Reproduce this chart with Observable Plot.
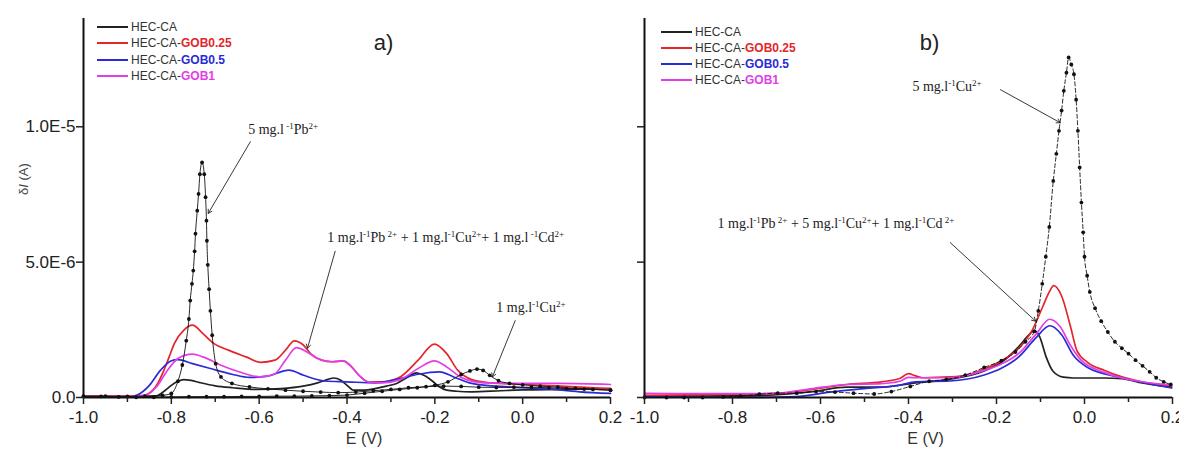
<!DOCTYPE html>
<html><head><meta charset="utf-8">
<script src="https://cdn.jsdelivr.net/npm/d3@7"></script>
<script src="https://cdn.jsdelivr.net/npm/@observablehq/plot@0.6"></script>
<style>
body{margin:0;background:#fff;}
#wrap{position:relative;width:1179px;height:454px;overflow:hidden;font-family:"Liberation Sans",Arial,sans-serif;background:#fff;}
#pa{position:absolute;left:0;top:0;}
#pb{position:absolute;left:620px;top:0;}
.leg{position:absolute;font-size:12px;color:#333;line-height:14px;white-space:nowrap;}
.leg .sw{display:inline-block;width:31px;height:0;border-top:2px solid;vertical-align:middle;margin-right:3px;position:relative;top:-1px;}
.leg b{font-weight:bold;}
</style></head><body>
<div id="wrap"><div id="pa"></div><div id="pb"></div></div>
<script>
// ---- axis ticks / labels ----
const xMajor = [-1.0, -0.8, -0.6, -0.4, -0.2, 0.0, 0.2];
const xMinor = [-0.9, -0.7, -0.5, -0.3, -0.1, 0.1];
const yTicks = [0, 5e-6, 1e-5];
const yTickLabels = ["0.0", "5.0E-6", "1.0E-5"];
const seriesNames = ["HEC-CA", "HEC-CA-GOB0.25", "HEC-CA-GOB0.5", "HEC-CA-GOB1"];
const seriesColors = ["#222222", "#e3262b", "#2b2bd6", "#e23de6"];

// ---- panel a) : [E (V), δI (µA)] ----
const aHEC = [[-1.0,0.03],[-0.9,0.03],[-0.86,0.04],[-0.834,0.06],[-0.815,0.25],[-0.8,0.45],[-0.785,0.6],[-0.772,0.66],[-0.755,0.63],[-0.735,0.55],[-0.7,0.43],[-0.66,0.36],[-0.605,0.3],[-0.55,0.33],[-0.5,0.42],[-0.467,0.54],[-0.445,0.66],[-0.43,0.72],[-0.415,0.65],[-0.4,0.45],[-0.385,0.27],[-0.36,0.27],[-0.336,0.33],[-0.31,0.42],[-0.287,0.52],[-0.262,0.75],[-0.242,0.91],[-0.225,0.82],[-0.205,0.6],[-0.19,0.4],[-0.173,0.27],[-0.15,0.23],[-0.116,0.21],[-0.05,0.25],[0.0,0.28],[0.088,0.3],[0.2,0.33]];
const aGOB025 = [[-1.0,0.05],[-0.95,0.05],[-0.9,0.05],[-0.866,0.07],[-0.842,0.27],[-0.83,0.55],[-0.817,1.0],[-0.805,1.5],[-0.793,2.0],[-0.772,2.48],[-0.752,2.67],[-0.728,2.36],[-0.703,1.99],[-0.67,1.75],[-0.63,1.5],[-0.597,1.3],[-0.564,1.38],[-0.54,1.75],[-0.52,2.09],[-0.499,1.93],[-0.483,1.62],[-0.458,1.38],[-0.434,1.32],[-0.409,1.35],[-0.393,1.19],[-0.369,0.76],[-0.352,0.58],[-0.32,0.58],[-0.279,0.76],[-0.238,1.38],[-0.201,1.97],[-0.173,1.62],[-0.148,1.01],[-0.116,0.66],[-0.075,0.54],[0.007,0.48],[0.088,0.42],[0.2,0.33]];
const aGOB05 = [[-1.0,0.02],[-0.9,0.02],[-0.878,0.09],[-0.85,0.45],[-0.825,1.0],[-0.801,1.35],[-0.785,1.4],[-0.752,1.25],[-0.711,1.07],[-0.662,0.86],[-0.622,0.74],[-0.581,0.79],[-0.532,1.01],[-0.499,0.82],[-0.45,0.61],[-0.401,0.58],[-0.336,0.54],[-0.279,0.7],[-0.238,0.86],[-0.189,0.95],[-0.157,0.76],[-0.116,0.52],[-0.034,0.39],[0.047,0.33],[0.129,0.21],[0.2,0.15]];
const aGOB1 = [[-1.0,0.03],[-0.9,0.03],[-0.858,0.09],[-0.834,0.39],[-0.809,1.0],[-0.785,1.44],[-0.752,1.6],[-0.728,1.5],[-0.687,1.19],[-0.646,0.95],[-0.597,0.76],[-0.564,0.88],[-0.54,1.38],[-0.515,1.84],[-0.491,1.68],[-0.467,1.44],[-0.434,1.32],[-0.409,1.35],[-0.393,1.19],[-0.369,0.76],[-0.352,0.58],[-0.32,0.54],[-0.279,0.66],[-0.238,1.07],[-0.201,1.35],[-0.173,1.13],[-0.14,0.74],[-0.108,0.58],[-0.075,0.54],[0.007,0.52],[0.088,0.52],[0.2,0.48]];
const aPb5 = [[-1.0,0.05],[-0.95,0.05],[-0.9,0.04],[-0.86,0.05],[-0.82,0.08],[-0.8,0.15],[-0.785,0.6],[-0.775,1.2],[-0.766,2.1],[-0.76,2.9],[-0.757,3.58],[-0.753,4.2],[-0.75,4.69],[-0.747,5.4],[-0.745,6.05],[-0.741,6.9],[-0.738,7.52],[-0.735,8.25],[-0.73,8.68],[-0.725,8.25],[-0.722,7.4],[-0.72,6.53],[-0.719,5.79],[-0.717,4.9],[-0.714,4.0],[-0.711,3.2],[-0.707,2.3],[-0.699,1.25],[-0.687,0.76],[-0.662,0.52],[-0.622,0.39],[-0.58,0.32],[-0.54,0.27],[-0.5,0.23],[-0.46,0.2],[-0.42,0.18],[-0.38,0.2],[-0.34,0.25],[-0.3,0.3],[-0.26,0.36],[-0.22,0.4],[-0.18,0.42],[-0.14,0.41],[-0.1,0.38],[-0.06,0.37],[-0.02,0.38],[0.02,0.38],[0.06,0.36],[0.1,0.33],[0.14,0.31],[0.2,0.27]];
const aCu1 = [[-1.0,0.04],[-0.96,0.04],[-0.92,0.02],[-0.88,0.01],[-0.84,0.01],[-0.8,0.02],[-0.76,0.03],[-0.72,0.03],[-0.68,0.03],[-0.64,0.04],[-0.6,0.04],[-0.56,0.05],[-0.52,0.05],[-0.48,0.06],[-0.44,0.07],[-0.4,0.09],[-0.36,0.16],[-0.32,0.23],[-0.28,0.3],[-0.24,0.36],[-0.2,0.45],[-0.17,0.58],[-0.14,0.85],[-0.12,0.98],[-0.104,1.05],[-0.09,1.0],[-0.075,0.82],[-0.055,0.62],[-0.03,0.52],[0.0,0.47],[0.04,0.42],[0.08,0.38],[0.12,0.34],[0.16,0.3],[0.2,0.27]];

// ---- panel b) ----
const bHEC = [[-1.0,0.05],[-0.775,0.06],[-0.618,0.22],[-0.54,0.38],[-0.501,0.38],[-0.462,0.38],[-0.384,0.54],[-0.306,0.67],[-0.228,0.98],[-0.189,1.3],[-0.15,1.87],[-0.126,2.32],[-0.114,2.48],[-0.102,2.25],[-0.087,1.49],[-0.072,0.98],[-0.048,0.75],[-0.025,0.72],[0.046,0.72],[0.085,0.7],[0.124,0.56],[0.198,0.38]];
const bGOB025 = [[-1.0,0.08],[-0.9,0.1],[-0.8,0.12],[-0.697,0.15],[-0.618,0.3],[-0.54,0.48],[-0.462,0.58],[-0.42,0.7],[-0.4,0.88],[-0.384,0.8],[-0.368,0.73],[-0.306,0.76],[-0.266,0.83],[-0.228,1.05],[-0.189,1.36],[-0.15,1.81],[-0.119,2.48],[-0.094,3.39],[-0.08,3.9],[-0.07,4.13],[-0.052,3.75],[-0.032,2.63],[-0.017,1.72],[0.007,1.3],[0.046,1.0],[0.085,0.76],[0.124,0.6],[0.198,0.43]];
const bGOB05 = [[-1.0,0.02],[-0.775,0.0],[-0.657,0.03],[-0.579,0.2],[-0.501,0.33],[-0.423,0.45],[-0.384,0.58],[-0.306,0.61],[-0.228,0.83],[-0.189,1.08],[-0.15,1.49],[-0.111,2.19],[-0.079,2.65],[-0.052,2.32],[-0.025,1.55],[0.007,1.11],[0.085,0.73],[0.198,0.35]];
const bGOB1 = [[-1.0,0.15],[-0.9,0.14],[-0.775,0.14],[-0.697,0.16],[-0.618,0.33],[-0.54,0.48],[-0.462,0.51],[-0.42,0.6],[-0.4,0.74],[-0.384,0.73],[-0.306,0.73],[-0.228,1.0],[-0.189,1.24],[-0.15,1.62],[-0.111,2.32],[-0.079,2.89],[-0.056,2.63],[-0.032,1.93],[-0.009,1.4],[0.046,0.92],[0.124,0.6],[0.198,0.46]];
const bCu5 = [[-1.0,0.0],[-0.95,0.0],[-0.91,0.0],[-0.868,0.0],[-0.821,0.02],[-0.782,0.05],[-0.739,0.12],[-0.697,0.16],[-0.654,0.16],[-0.61,0.22],[-0.567,0.2],[-0.525,0.16],[-0.478,0.13],[-0.439,0.22],[-0.396,0.41],[-0.353,0.6],[-0.314,0.67],[-0.271,0.83],[-0.228,1.11],[-0.189,1.36],[-0.157,1.68],[-0.134,2.06],[-0.114,2.44],[-0.105,3.2],[-0.096,4.2],[-0.088,5.2],[-0.08,6.3],[-0.071,8.0],[-0.064,9.0],[-0.058,9.85],[-0.052,10.6],[-0.047,11.33],[-0.041,12.0],[-0.036,12.56],[-0.03,12.3],[-0.024,11.94],[-0.019,11.0],[-0.015,9.85],[-0.011,8.5],[-0.007,7.2],[-0.003,6.1],[0.0,5.2],[0.006,4.5],[0.012,3.9],[0.024,3.3],[0.038,2.82],[0.053,2.42],[0.069,2.06],[0.085,1.82],[0.1,1.62],[0.116,1.38],[0.132,1.17],[0.148,0.95],[0.163,0.73],[0.18,0.58],[0.196,0.48]];

// ---- annotations (E in V, δI in µA) ----
const annoA = [
  {x:-0.625, y:9.9, text:"5 mg.l^{ -1}Pb^{2+}"},
  {x:-0.445, y:5.9, text:"1 mg.l^{-1}Pb^{ 2+} + 1 mg.l^{-1}Cu^{2+}+ 1 mg.l^{ -1}Cd^{2+}"},
  {x:-0.06, y:3.32, text:"1 mg.l^{-1}Cu^{2+}"}
];
const arrowsA = [
  {x1:-0.62, y1:9.45, x2:-0.716, y2:6.8},
  {x1:-0.427, y1:5.4, x2:-0.49, y2:1.82},
  {x1:-0.017, y1:2.84, x2:-0.069, y2:0.76}
];
const annoB = [
  {x:-0.391, y:11.5, text:"5 mg.l^{-1}Cu^{2+}"},
  {x:-0.834, y:6.42, text:"1 mg.l^{-1}Pb^{ 2+} + 5 mg.l^{-1}Cu^{2+}+ 1 mg.l^{-1}Cd^{ 2+}"}
];
const arrowsB = [
  {x1:-0.191, y1:11.37, x2:-0.055, y2:10.15},
  {x1:-0.305, y1:5.72, x2:-0.111, y2:2.82}
];
const panelLetters = [{x:-0.317, y:13.1, text:"a)"}, {x:-0.352, y:13.1, text:"b)"}];

const toRows = arr => arr.map(([e, i]) => ({E: e, I: i * 1e-6}));
const tickLab = new Map(yTicks.map((v, k) => [v, yTickLabels[k]]));

function panel({series, dotted, dashed, annos, arrows, letter, width, marginLeft, marginRight, yLabels}) {
  const marks = [];
  series.forEach((s, k) => marks.push(Plot.line(toRows(s), {x: "E", y: "I", stroke: seriesColors[k], strokeWidth: 1.7, curve: "monotone-x"})));
  dotted.forEach(s => {
    marks.push(Plot.line(toRows(s), {x: "E", y: "I", stroke: "#111", strokeWidth: 0.9, strokeDasharray: dashed ? "4,2.5" : null, curve: "monotone-x"}));
    marks.push(Plot.dot(toRows(s), {x: "E", y: "I", r: 1.9, fill: "#111", stroke: null}));
  });
  marks.push(
    Plot.ruleY([0], {stroke: "#111", strokeWidth: 2}),
    Plot.ruleX([-1], {stroke: "#111", strokeWidth: 2}),
    Plot.axisX(xMajor, {anchor: "bottom", tickSize: 7, tickPadding: 6, strokeWidth: 1.5, fontSize: 17, tickFormat: d => d.toFixed(1), label: null}),
    Plot.axisX(xMinor, {anchor: "bottom", tickSize: 5, strokeWidth: 1.5, tickFormat: () => "", label: null}),
    Plot.axisY(yTicks, {anchor: "left", tickSize: 7, tickPadding: 1, strokeWidth: 1.5, fontSize: 17, tickFormat: d => yLabels ? tickLab.get(d) : "", label: null}),
    Plot.text(["E (V)"], {frameAnchor: "bottom", dx: 17, dy: 46, fontSize: 16, fill: "#333"}),
    Plot.arrow(arrows.map(a => ({x1: a.x1, y1: a.y1 * 1e-6, x2: a.x2, y2: a.y2 * 1e-6})), {x1: "x1", y1: "y1", x2: "x2", y2: "y2", stroke: "#222", strokeWidth: 0.9, headLength: 7, bend: 0}),
    Plot.text(annos.map(a => ({...a, y: a.y * 1e-6})), {x: "x", y: "y", text: "text", textAnchor: "start", fontFamily: "Liberation Serif, Times New Roman, serif", fontSize: 14, fill: "#222"}),
    Plot.text([{...letter, y: letter.y * 1e-6}], {x: "x", y: "y", text: "text", fontSize: 22, fill: "#222"})
  );
  if (yLabels) marks.push(Plot.text(["δI (A)"], {frameAnchor: "left", dx: -60, dy: -13, rotate: -90, fontSize: 13, fill: "#444"}));
  const svg = Plot.plot({
    width, height: 454, marginLeft, marginRight, marginTop: 18, marginBottom: 57,
    x: {domain: [-1.0, 0.2], axis: null},
    y: {domain: [0, 1.4e-5], axis: null},
    style: {fontFamily: "Liberation Sans, Arial, sans-serif", fontSize: "17px", color: "#222", background: "transparent", overflow: "visible"},
    marks
  });
  // superscripts & italic symbol
  d3.select(svg).selectAll("text").each(function () {
    const t = this.textContent;
    const sel = d3.select(this);
    if (t === "δI (A)") {
      sel.text(null);
      sel.append("tspan").text("δ");
      sel.append("tspan").attr("font-style", "italic").text("I");
      sel.append("tspan").text(" (A)");
      return;
    }
    if (!t.includes("^{")) return;
    sel.text(null);
    const parts = t.split(/(\^\{[^}]*\})/).filter(s => s.length);
    let up = false;
    for (const p of parts) {
      if (p.startsWith("^{")) { sel.append("tspan").attr("font-size", 9).attr("dy", up ? 0 : -5).text(p.slice(2, -1)); up = true; }
      else { sel.append("tspan").attr("dy", up ? 5 : 0).text(p); up = false; }
    }
  });
  return svg;
}

document.getElementById("pa").append(panel({
  series: [aHEC, aGOB025, aGOB05, aGOB1], dotted: [aPb5, aCu1], dashed: false,
  annos: annoA, arrows: arrowsA, letter: panelLetters[0],
  width: 620, marginLeft: 83, marginRight: 10, yLabels: true
}));
document.getElementById("pb").append(panel({
  series: [bHEC, bGOB025, bGOB05, bGOB1], dotted: [bCu5], dashed: true,
  annos: annoB, arrows: arrowsB, letter: panelLetters[1],
  width: 559, marginLeft: 24, marginRight: 7, yLabels: false
}));

// ---- legends (HTML overlay) ----
function legend(left, tops) {
  const wrap = document.getElementById("wrap");
  seriesNames.forEach((name, k) => {
    const d = document.createElement("div");
    d.className = "leg";
    d.style.left = left + "px";
    d.style.top = (tops[k] - 7) + "px";
    const sw = document.createElement("span");
    sw.className = "sw"; sw.style.borderTopColor = seriesColors[k];
    d.append(sw);
    const base = k === 0 ? name : "HEC-CA-";
    d.append(document.createTextNode(base));
    if (k > 0) {
      const b = document.createElement("b");
      b.style.color = seriesColors[k];
      b.textContent = name.slice(7);
      d.append(b);
    }
    wrap.append(d);
  });
}
legend(97, [27, 43, 60, 76]);
legend(661, [32, 48, 64, 80]);
</script></body></html>
